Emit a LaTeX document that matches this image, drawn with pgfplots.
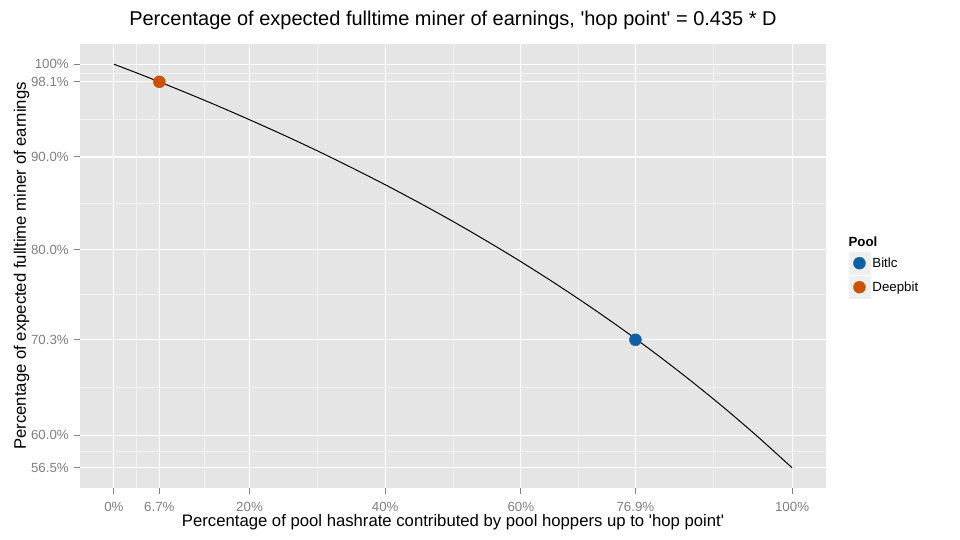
\documentclass[border=0pt]{standalone}
\usepackage{fontspec}
\setmainfont{Liberation Sans}
\usepackage{pgfplots}
\pgfplotsset{compat=1.18}
\definecolor{panelbg}{HTML}{E5E5E5}
\definecolor{minorgrid}{HTML}{F2F2F2}
\definecolor{keybg}{HTML}{EFEFEF}
\definecolor{tickgray}{HTML}{7F7F7F}
\definecolor{bitlc}{HTML}{0F5FA6}
\definecolor{deepbit}{HTML}{CC5200}
\begin{document}
\begin{tikzpicture}[x=1pt,y=1pt]
\path[use as bounding box] (0,0) rectangle (960,540);
\begin{axis}[
  at={(80pt,52pt)}, anchor=south west,
  scale only axis, width=746pt, height=444pt,
  xmin=-5, xmax=105, ymin=54.325, ymax=102.175,
  clip mode=individual,
  axis background/.style={fill=panelbg},
  axis line style={draw=none},
  xtick={0,6.7,20,40,60,76.9,100},
  xticklabels={0\%,6.7\%,20\%,40\%,60\%,76.9\%,100\%},
  ytick={56.5,60,70.3,80,90,98.1,100},
  yticklabels={56.5\%,60.0\%,70.3\%,80.0\%,90.0\%,98.1\%,100\%},
  minor xtick={3.35,13.35,30,50,68.45,88.45},
  minor ytick={58.25,65.15,75.15,85,94.05,99.05},
  grid=both,
  major grid style={white, line width=1.1pt},
  minor grid style={minorgrid, line width=0.55pt},
  tick align=outside,
  major tick length=5.7pt, minor tick length=0pt,
  xtick pos=bottom, ytick pos=left,
  tick style={tickgray, line width=1pt},
  ticklabel style={font=\fontsize{13.3}{15}\selectfont, text=tickgray},
  xticklabel style={yshift=-5pt},
  yticklabel style={xshift=-2pt},
  title={Percentage of expected fulltime miner of earnings, \textquotesingle hop point\textquotesingle{} = 0.435 * D},
  title style={font=\fontsize{20}{24}\selectfont, at={(axis description cs:0.5,1)}, anchor=base, yshift=12.5pt},
  xlabel={Percentage of pool hashrate contributed by pool hoppers up to \textquotesingle hop point\textquotesingle},
  ylabel={Percentage of expected fulltime miner of earnings},
  label style={font=\fontsize{16.7}{19}\selectfont},
  xlabel style={at={(axis description cs:0.5,0)}, anchor=base, yshift=-38.5pt},
  ylabel style={at={(axis description cs:-0.0725,0.5)}, anchor=base, rotate=0},
  legend style={at={(axis description cs:1,0.5)}, anchor=west, xshift=22.3pt, yshift=-9.2pt, draw=none, fill=none,
    font=\fontsize{13.3}{15}\selectfont, row sep=2pt, inner sep=0pt},
  legend cell align=left,
]
\addplot[black, line width=1pt, smooth, forget plot] table {
x y
0 100
5 98.59
10 97.12
15 95.60
20 94.01
25 92.37
30 90.66
35 88.87
40 87.01
45 85.07
50 83.05
55 80.93
60 78.72
65 76.40
70 73.97
75 71.42
80 68.74
85 65.92
90 62.95
95 59.81
100 56.50
};
\addplot[only marks, mark=*, mark size=6pt, color=bitlc,
  legend image code/.code={\fill[keybg] (0pt,-10.8pt) rectangle (21.5pt,10.8pt);
    \draw[mark repeat=2, mark phase=2] plot coordinates {(0pt,0pt) (10.75pt,0pt) (21.5pt,0pt)};}]
  coordinates {(76.9,70.3)};
\addlegendentry{Bitlc}
\addplot[only marks, mark=*, mark size=6pt, color=deepbit,
  legend image code/.code={\fill[keybg] (0pt,-10.8pt) rectangle (21.5pt,10.8pt);
    \draw[mark repeat=2, mark phase=2] plot coordinates {(0pt,0pt) (10.75pt,0pt) (21.5pt,0pt)};}]
  coordinates {(6.7,98.1)};
\addlegendentry{Deepbit}
\node[anchor=base west, font=\bfseries\fontsize{13.3}{15}\selectfont, xshift=19pt, yshift=19pt] at (axis description cs:1,0.5) {Pool};
\end{axis}
\end{tikzpicture}
\end{document}
